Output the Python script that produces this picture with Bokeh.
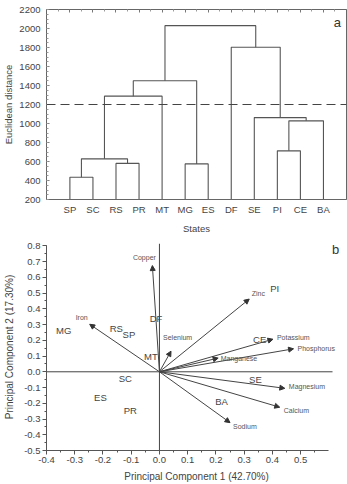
from bokeh.plotting import figure
from bokeh.models import (ColumnDataSource, FixedTicker, SingleIntervalTicker, LinearAxis,
                          Span, Arrow, NormalHead, Label, LabelSet, Range1d, PrintfTickFormatter)
from bokeh.core.properties import value
from bokeh.layouts import column
from bokeh.embed import file_html
from bokeh.resources import INLINE

# ---- (a) hierarchical clustering of states ----
leaves = ["SP", "SC", "RS", "PR", "MT", "MG", "ES", "DF", "SE", "PI", "CE", "BA"]
# merges: (cluster a, cluster b, euclidean distance); new clusters numbered from len(leaves)
merge_a = [0, 2, 12, 5, 9, 16, 8, 14, 19, 7, 20]
merge_b = [1, 3, 13, 6, 10, 11, 17, 4, 15, 18, 21]
merge_h = [435, 580, 628, 575, 712, 1028, 1062, 1288, 1450, 1802, 2030]
cut_height = 1200
y_ticks_a = list(range(200, 2201, 200))

# ---- (b) PCA biplot ----
variables = ["Copper", "Iron", "Selenium", "Zinc", "Potassium", "Phosphorus",
             "Manganese", "Magnesium", "Calcium", "Sodium"]
load_pc1 = [-0.025, -0.247, 0.041, 0.318, 0.402, 0.475, 0.208, 0.444, 0.426, 0.250]
load_pc2 = [0.675, 0.302, 0.131, 0.462, 0.207, 0.146, 0.087, -0.105, -0.225, -0.323]

states = ["MG", "RS", "SP", "DF", "MT", "PI", "CE", "SC", "ES", "PR", "SE", "BA"]
score_pc1 = [-0.339, -0.153, -0.108, -0.012, -0.030, 0.408, 0.355, -0.121, -0.209, -0.103, 0.340, 0.220]
score_pc2 = [0.262, 0.272, 0.237, 0.338, 0.095, 0.532, 0.207, -0.040, -0.166, -0.247, -0.048, -0.187]

# axis extents of the biplot
pc1_lo, pc1_hi = -0.4, 0.6
pc2_lo, pc2_hi = -0.5, 0.8
axis_line_end = 0.613

FONT = "Liberation Sans"
TXT = "#444444"
LINE = "#555555"

# ---------------- dendrogram ----------------
p1 = figure(width=347, height=236, x_range=Range1d(-0.015, 13), y_range=Range1d(200, 2200),
            output_backend="svg", toolbar_location=None,
            min_border_left=46, min_border_right=1, min_border_top=9, min_border_bottom=37)
p1.grid.visible = False
p1.outline_line_color = "#666666"

pos = {i: i + 1 for i in range(len(leaves))}
hgt = {i: 0 for i in range(len(leaves))}
xs, ys = [], []
for k, (a, b, h) in enumerate(zip(merge_a, merge_b, merge_h)):
    xs.append([pos[a], pos[a], pos[b], pos[b]])
    ys.append([hgt[a], h, h, hgt[b]])
    pos[len(leaves) + k] = (pos[a] + pos[b]) / 2
    hgt[len(leaves) + k] = h
p1.multi_line(xs, ys, line_color=LINE, line_width=1.1)

p1.add_layout(Span(location=cut_height, dimension="width", line_color="#444444",
                   line_dash="9 5", line_width=1.1))

xa = p1.xaxis[0]
xa.ticker = FixedTicker(ticks=list(range(1, len(leaves) + 1)))
xa.major_label_overrides = {i + 1: s for i, s in enumerate(leaves)}
xa.major_tick_in = 0
xa.major_tick_out = 0
xa.major_label_standoff = 4
xa.axis_label = "States"
xa.axis_label_standoff = 5
xa.axis_line_color = "#666666"

ya = p1.yaxis[0]
ya.ticker = FixedTicker(ticks=y_ticks_a, minor_ticks=list(range(200, 2201, 50)))
ya.major_tick_in = 3
ya.major_tick_out = 0
ya.minor_tick_in = 2
ya.minor_tick_out = 0
ya.major_label_standoff = 6
ya.axis_label = "Euclidean distance"
ya.axis_label_standoff = 2
ya.axis_line_color = "#666666"

# tick marks along the top edge of the frame, without labels
top_ticks = list(range(1, len(leaves) + 1))
top_ax = LinearAxis(ticker=FixedTicker(ticks=top_ticks,
                                       minor_ticks=[i + 0.5 for i in range(0, len(leaves) + 1)]),
                    major_label_overrides={t: "" for t in top_ticks},
                    major_tick_in=3, major_tick_out=0, minor_tick_in=2, minor_tick_out=0,
                    major_label_standoff=0,
                    axis_line_color="#666666", major_tick_line_color="#777777",
                    minor_tick_line_color="#999999")
p1.add_layout(top_ax, "above")

for ax in (xa, ya):
    ax.major_label_text_font = FONT
    ax.major_label_text_font_size = "9.5px"
    ax.major_label_text_color = TXT
    ax.axis_label_text_font = FONT
    ax.axis_label_text_font_size = "9.5px"
    ax.axis_label_text_font_style = "normal"
    ax.axis_label_text_color = TXT
    ax.major_tick_line_color = "#777777"
    ax.minor_tick_line_color = "#999999" if ax is ya else None

p1.add_layout(Label(x=12.6, y=2063, text="a", text_font=FONT, text_font_size="13px",
                    text_color="#333333", text_align="center", text_baseline="middle"))

# ---------------- biplot ----------------
p2 = figure(width=347, height=248, x_range=Range1d(pc1_lo, 0.6625), y_range=Range1d(pc2_lo, 0.815),
            output_backend="svg", toolbar_location=None,
            min_border_left=46, min_border_right=1, min_border_top=7, min_border_bottom=33)
p2.grid.visible = False
p2.outline_line_color = None

# zero reference lines
p2.segment(x0=[pc1_lo], y0=[0], x1=[axis_line_end], y1=[0], line_color="#444444", line_width=1)
p2.add_layout(Span(location=0, dimension="height", line_color="#444444", line_width=1))

load_src = ColumnDataSource(dict(
    x0=[0] * len(variables), y0=[0] * len(variables),
    pc1=load_pc1, pc2=load_pc2, name=variables,
    dx=[-8, -8, -8, 2.5, 4, 4, 2.5, 4, 4, 3],
    dy=[8, 7, 14, 5.5, 1.3, 0, -0.5, 1.6, -3, -3.5],
    align=["center", "center", "left", "left", "left", "left", "left", "left", "left", "left"],
))
p2.add_layout(Arrow(end=NormalHead(size=5, fill_color="#333333", line_color="#333333", line_width=1),
                    x_start="x0", y_start="y0", x_end="pc1", y_end="pc2", source=load_src,
                    line_color="#444444", line_width=1))
p2.add_layout(LabelSet(x="pc1", y="pc2", text="name", x_offset="dx", y_offset="dy",
                       text_align="align", text_baseline=value("middle"), source=load_src,
                       text_font=value(FONT), text_font_size=value("7px"),
                       text_color=value("#555555")))

state_src = ColumnDataSource(dict(pc1=score_pc1, pc2=score_pc2, name=states))
p2.add_layout(LabelSet(x="pc1", y="pc2", text="name", source=state_src,
                       text_align=value("center"), text_baseline=value("middle"),
                       text_font=value(FONT), text_font_size=value("9.5px"),
                       text_color=value(TXT)))

xb = p2.xaxis[0]
yb = p2.yaxis[0]
xb.bounds = (pc1_lo, pc1_hi)
yb.bounds = (pc2_lo, pc2_hi)
xb.ticker = SingleIntervalTicker(interval=0.1, num_minor_ticks=2)
yb.ticker = SingleIntervalTicker(interval=0.1, num_minor_ticks=2)
xb.axis_label = "Principal Component 1 (42.70%)"
yb.axis_label = "Principal Component 2 (17.30%)"
xb.major_label_standoff = 2
yb.major_label_standoff = 2
xb.axis_label_standoff = 5
yb.axis_label_standoff = 6
for ax in (xb, yb):
    ax.formatter = PrintfTickFormatter(format="%.1f")
    ax.major_tick_in = 0
    ax.major_tick_out = 4
    ax.minor_tick_in = 0
    ax.minor_tick_out = 2
    ax.axis_line_color = LINE
    ax.major_tick_line_color = LINE
    ax.minor_tick_line_color = LINE
    ax.major_label_text_font = FONT
    ax.major_label_text_font_size = "9.5px"
    ax.major_label_text_color = TXT
    ax.axis_label_text_font = FONT
    ax.axis_label_text_font_size = "10px"
    ax.axis_label_text_font_style = "normal"
    ax.axis_label_text_color = TXT

p2.add_layout(Label(x=0.624, y=0.777, text="b", text_font=FONT, text_font_size="13px",
                    text_color="#333333", text_align="center", text_baseline="middle"))

layout = column(p1, p2, spacing=0)
open("out.html", "w").write(file_html(layout, INLINE))
